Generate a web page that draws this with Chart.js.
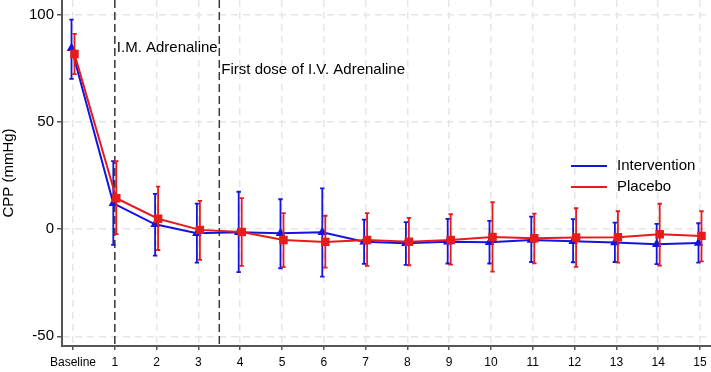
<!DOCTYPE html>
<html>
<head>
<meta charset="utf-8">
<script src="https://cdn.jsdelivr.net/npm/chart.js@4.4.0/dist/chart.umd.min.js"></script>
<style>
  html, body { margin: 0; padding: 0; background: #fff; }
</style>
</head>
<body>
<canvas id="chart" width="711" height="372"></canvas>
<script>
// time points (0 = Baseline) and their tick labels
const timepoints = [0, 1, 2, 3, 4, 5, 6, 7, 8, 9, 10, 11, 12, 13, 14, 15];
const tickLabels = ["Baseline", "1", "2", "3", "4", "5", "6", "7", "8", "9", "10", "11", "12", "13", "14", "15"];
const yTicks = [-50, 0, 50, 100];

// Intervention group: mean and error bar ends
const interventionMean = [84.5, 12.1, 2.3, -1.9, -1.4, -1.9, -1.4, -5.8, -6.5, -5.8, -6.1, -5.0, -5.6, -6.2, -7.0, -6.4];
const interventionLow  = [70.2, -7.3, -12.3, -15.6, -20.0, -18.2, -22.1, -16.2, -16.6, -16.0, -16.0, -15.3, -15.4, -15.3, -16.3, -15.6];
const interventionHigh = [97.8, 31.8, 16.5, 12.0, 17.5, 14.0, 19.1, 4.5, 3.3, 4.8, 3.9, 5.9, 4.7, 3.1, 2.5, 2.8];

// Placebo group
const placeboMean = [81.8, 14.5, 4.9, -0.3, -1.3, -5.0, -5.9, -5.0, -5.8, -5.0, -3.6, -4.2, -3.9, -3.7, -2.3, -3.1];
const placeboLow  = [72.4, -2.3, -9.7, -14.3, -17.1, -17.7, -17.9, -17.1, -16.8, -16.5, -19.8, -15.9, -17.6, -15.6, -17.0, -15.0];
const placeboHigh = [91.2, 31.8, 19.9, 13.2, 14.5, 7.5, 6.3, 7.5, 5.3, 7.0, 12.6, 7.3, 9.8, 8.4, 11.9, 8.4];

// vertical event markers
const events = [
    { at: 1, label: "I.M. Adrenaline", labelY: 84.6 },
    { at: 3.5, label: "First dose of I.V. Adrenaline", labelY: 74.5 },
];

const BLUE = "#1414dc";
const RED = "#e51c1c";
const FONT = "'Liberation Sans', Arial, Helvetica, sans-serif";

function points(means) {
    return timepoints.map((t, i) => ({ x: t, y: means[i] }));
}

// error bars drawn under each dataset, with a small horizontal shift per group
const errorBarPlugin = {
    id: "errorBars",
    beforeDatasetDraw(chart, args) {
        const ds = chart.data.datasets[args.index];
        const ctx = chart.ctx;
        const xs = chart.scales.x;
        const ys = chart.scales.y;
        ctx.save();
        ctx.translate(ds.shift || 0, 0);
        ctx.strokeStyle = ds.borderColor;
        ctx.lineWidth = 1.8;
        for (let i = 0; i < timepoints.length; i++) {
            const px = xs.getPixelForValue(timepoints[i]);
            const lo = ys.getPixelForValue(ds.errLow[i]);
            const hi = ys.getPixelForValue(ds.errHigh[i]);
            ctx.beginPath();
            ctx.moveTo(px, lo);
            ctx.lineTo(px, hi);
            ctx.moveTo(px - 2.2, lo);
            ctx.lineTo(px + 2.2, lo);
            ctx.moveTo(px - 2.2, hi);
            ctx.lineTo(px + 2.2, hi);
            ctx.stroke();
        }
    },
    afterDatasetDraw(chart) {
        chart.ctx.restore();
    }
};

const eventPlugin = {
    id: "events",
    beforeDatasetsDraw(chart) {
        const ctx = chart.ctx;
        const area = chart.chartArea;
        const xs = chart.scales.x;
        const ys = chart.scales.y;
        ctx.save();
        ctx.strokeStyle = "#3a3a3a";
        ctx.lineWidth = 1.5;
        ctx.setLineDash([8, 4]);
        events.forEach(ev => {
            const px = xs.getPixelForValue(ev.at);
            ctx.beginPath();
            ctx.moveTo(px, area.top);
            ctx.lineTo(px, area.bottom);
            ctx.stroke();
        });
        ctx.setLineDash([]);
        ctx.fillStyle = "#000";
        ctx.font = "15px " + FONT;
        ctx.textAlign = "left";
        ctx.textBaseline = "middle";
        events.forEach(ev => {
            ctx.fillText(ev.label, xs.getPixelForValue(ev.at) + 2, ys.getPixelForValue(ev.labelY));
        });
        ctx.restore();
    }
};

const legendPlugin = {
    id: "sideLegend",
    afterDraw(chart) {
        const ctx = chart.ctx;
        const area = chart.chartArea;
        const items = [chart.data.datasets[1], chart.data.datasets[0]];
        ctx.save();
        ctx.font = "15px " + FONT;
        ctx.textBaseline = "middle";
        items.forEach((ds, i) => {
            const y = area.top + 166 + i * 21;
            ctx.strokeStyle = ds.borderColor;
            ctx.lineWidth = 2;
            ctx.beginPath();
            ctx.moveTo(area.right - 140, y);
            ctx.lineTo(area.right - 104, y);
            ctx.stroke();
            ctx.fillStyle = "#000";
            ctx.fillText(ds.label, area.right - 94, y);
        });
        ctx.restore();
    }
};

const chart = new Chart(document.getElementById("chart"), {
    type: "line",
    data: {
        datasets: [
            {
                label: "Placebo",
                data: points(placeboMean),
                errLow: placeboLow,
                errHigh: placeboHigh,
                shift: 1.5,
                borderColor: RED,
                backgroundColor: RED,
                borderWidth: 2,
                pointStyle: "rect",
                pointRadius: 6,
                pointBorderWidth: 0,
                tension: 0,
                order: 0,
            },
            {
                label: "Intervention",
                data: points(interventionMean),
                errLow: interventionLow,
                errHigh: interventionHigh,
                shift: -1.5,
                borderColor: BLUE,
                backgroundColor: BLUE,
                borderWidth: 2,
                pointStyle: "triangle",
                pointRadius: 5.5,
                pointBorderWidth: 0,
                tension: 0,
                order: 1,
            },
        ],
    },
    options: {
        responsive: false,
        animation: false,
        layout: { padding: 0, autoPadding: false },
        plugins: {
            legend: { display: false },
            tooltip: { enabled: false },
        },
        scales: {
            x: {
                type: "linear",
                min: -0.2632,
                max: 15.2632,
                afterBuildTicks: s => { s.ticks = timepoints.map(v => ({ value: v })); },
                afterFit: s => {
                    s.height = 26;
                    s.paddingLeft = 0;
                    s.paddingRight = 0;
                },
                ticks: {
                    autoSkip: false,
                    maxRotation: 0,
                    padding: 5,
                    color: "#000",
                    font: { size: 12, family: FONT },
                    callback: v => tickLabels[timepoints.indexOf(v)],
                },
                grid: {
                    color: "#e6e6e6",
                    lineWidth: 1.5,
                    tickLength: 4,
                    tickColor: "#555",
                    tickWidth: 1.5,
                    tickBorderDash: [],
                },
                border: { color: "#555", width: 2, dash: [7, 5] },
            },
            y: {
                min: -54.5,
                max: 107,
                afterBuildTicks: s => { s.ticks = yTicks.map(v => ({ value: v })); },
                afterFit: s => {
                    s.width = 62;
                    s.paddingTop = 0;
                    s.paddingBottom = 0;
                },
                ticks: {
                    padding: 3,
                    color: "#000",
                    font: { size: 15, family: FONT },
                },
                grid: {
                    color: "#e6e6e6",
                    lineWidth: 1.5,
                    tickLength: 5,
                    tickColor: "#555",
                    tickWidth: 1.5,
                    tickBorderDash: [],
                },
                border: { color: "#555", width: 2, dash: [7, 5] },
                title: {
                    display: true,
                    text: "CPP (mmHg)",
                    color: "#000",
                    padding: 0,
                    font: { size: 15, family: FONT },
                },
            },
        },
    },
    plugins: [errorBarPlugin, eventPlugin, legendPlugin],
});
</script>
</body>
</html>
